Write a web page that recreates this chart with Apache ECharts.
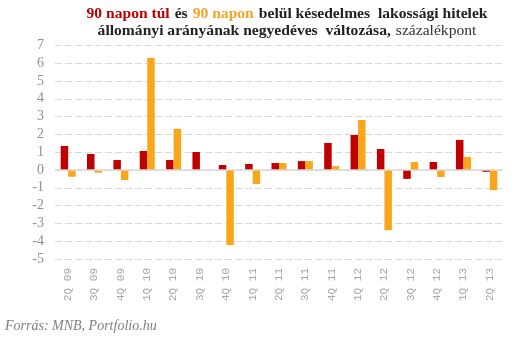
<!DOCTYPE html>
<html><head><meta charset="utf-8">
<script src="https://cdn.jsdelivr.net/npm/echarts@6/dist/echarts.min.js"></script>
<style>html,body{margin:0;padding:0;background:#fff}#c{width:530px;height:338px}</style>
</head><body><div id="c"></div>
<script>
var categories = ['2Q 09','3Q 09','4Q 09','1Q 10','2Q 10','3Q 10','4Q 10','1Q 11','2Q 11','3Q 11','4Q 11','1Q 12','2Q 12','3Q 12','4Q 12','1Q 13','2Q 13'];
var over90 = [1.35, 0.9, 0.56, 1.07, 0.56, 1.01, 0.28, 0.34, 0.39, 0.5, 1.52, 1.97, 1.18, -0.5, 0.45, 1.69, -0.1];
var within90 = [-0.38, -0.15, -0.56, 6.3, 2.31, 0, -4.22, -0.79, 0.39, 0.5, 0.22, 2.81, -3.38, 0.45, -0.39, 0.73, -1.13];
var yMin = -5, yMax = 7, yStep = 1;

var chart = echarts.init(document.getElementById('c'), null, {renderer:'canvas'});
var titleFont = 'Liberation Serif';
var fs = 15.6;
chart.setOption({
  animation: false,
  title: {
    text: '{r|90 napon túl} {d|és} {o|90 napon} {d|belül késedelmes  lakossági hitelek}\n{d|állományi arányának negyedéves  változása,} {n|százalékpont}',
    left: 282, top: 0, textAlign: 'center',
    textStyle: {
      lineHeight: 17,
      rich: {
        r: {color:'#c00000', fontFamily:titleFont, fontWeight:'bold', fontSize:fs, lineHeight:17},
        o: {color:'#f7a325', fontFamily:titleFont, fontWeight:'bold', fontSize:fs, lineHeight:17},
        d: {color:'#222222', fontFamily:titleFont, fontWeight:'bold', fontSize:fs, lineHeight:17},
        n: {color:'#333333', fontFamily:titleFont, fontWeight:'normal', fontSize:fs, lineHeight:17}
      }
    }
  },
  graphic: [{
    type:'text', left: 5, top: 319,
    style: {text:'Forrás: MNB, Portfolio.hu', fill:'#7f7f7f', font:'italic 14px "Liberation Serif"'}
  }],
  grid: {left: 55, right: 27, top: 45.4, bottom: 79},
  xAxis: {
    type:'category', data: categories,
    axisLine:{show:false, onZero:false}, axisTick:{show:false},
    axisLabel:{rotate:90, margin:9, color:'#a6a6a6', fontFamily:'Liberation Mono', fontSize:11}
  },
  yAxis: {
    type:'value', min:yMin, max:yMax, interval:yStep,
    axisLine:{show:false}, axisTick:{show:false},
    axisLabel:{margin:11, color:'#8a8f99', fontFamily:'Liberation Serif', fontSize:14},
    splitLine:{lineStyle:{color:'#d9d9d9', type:[7,3], width:1}}
  },
  series: [
    {name:'90 napon túl', type:'bar', data: over90, barGap:'0%', barCategoryGap:'43%',
     itemStyle:{color:'#c00000'},
     markLine:{silent:true, symbol:'none', label:{show:false},
       lineStyle:{color:'#d9d9d9', type:'solid', width:1.5}, data:[{yAxis:0}]}},
    {name:'90 napon belül', type:'bar', data: within90, barGap:'0%', barCategoryGap:'43%',
     itemStyle:{color:'#f9a61b'}}
  ]
});
</script></body></html>
